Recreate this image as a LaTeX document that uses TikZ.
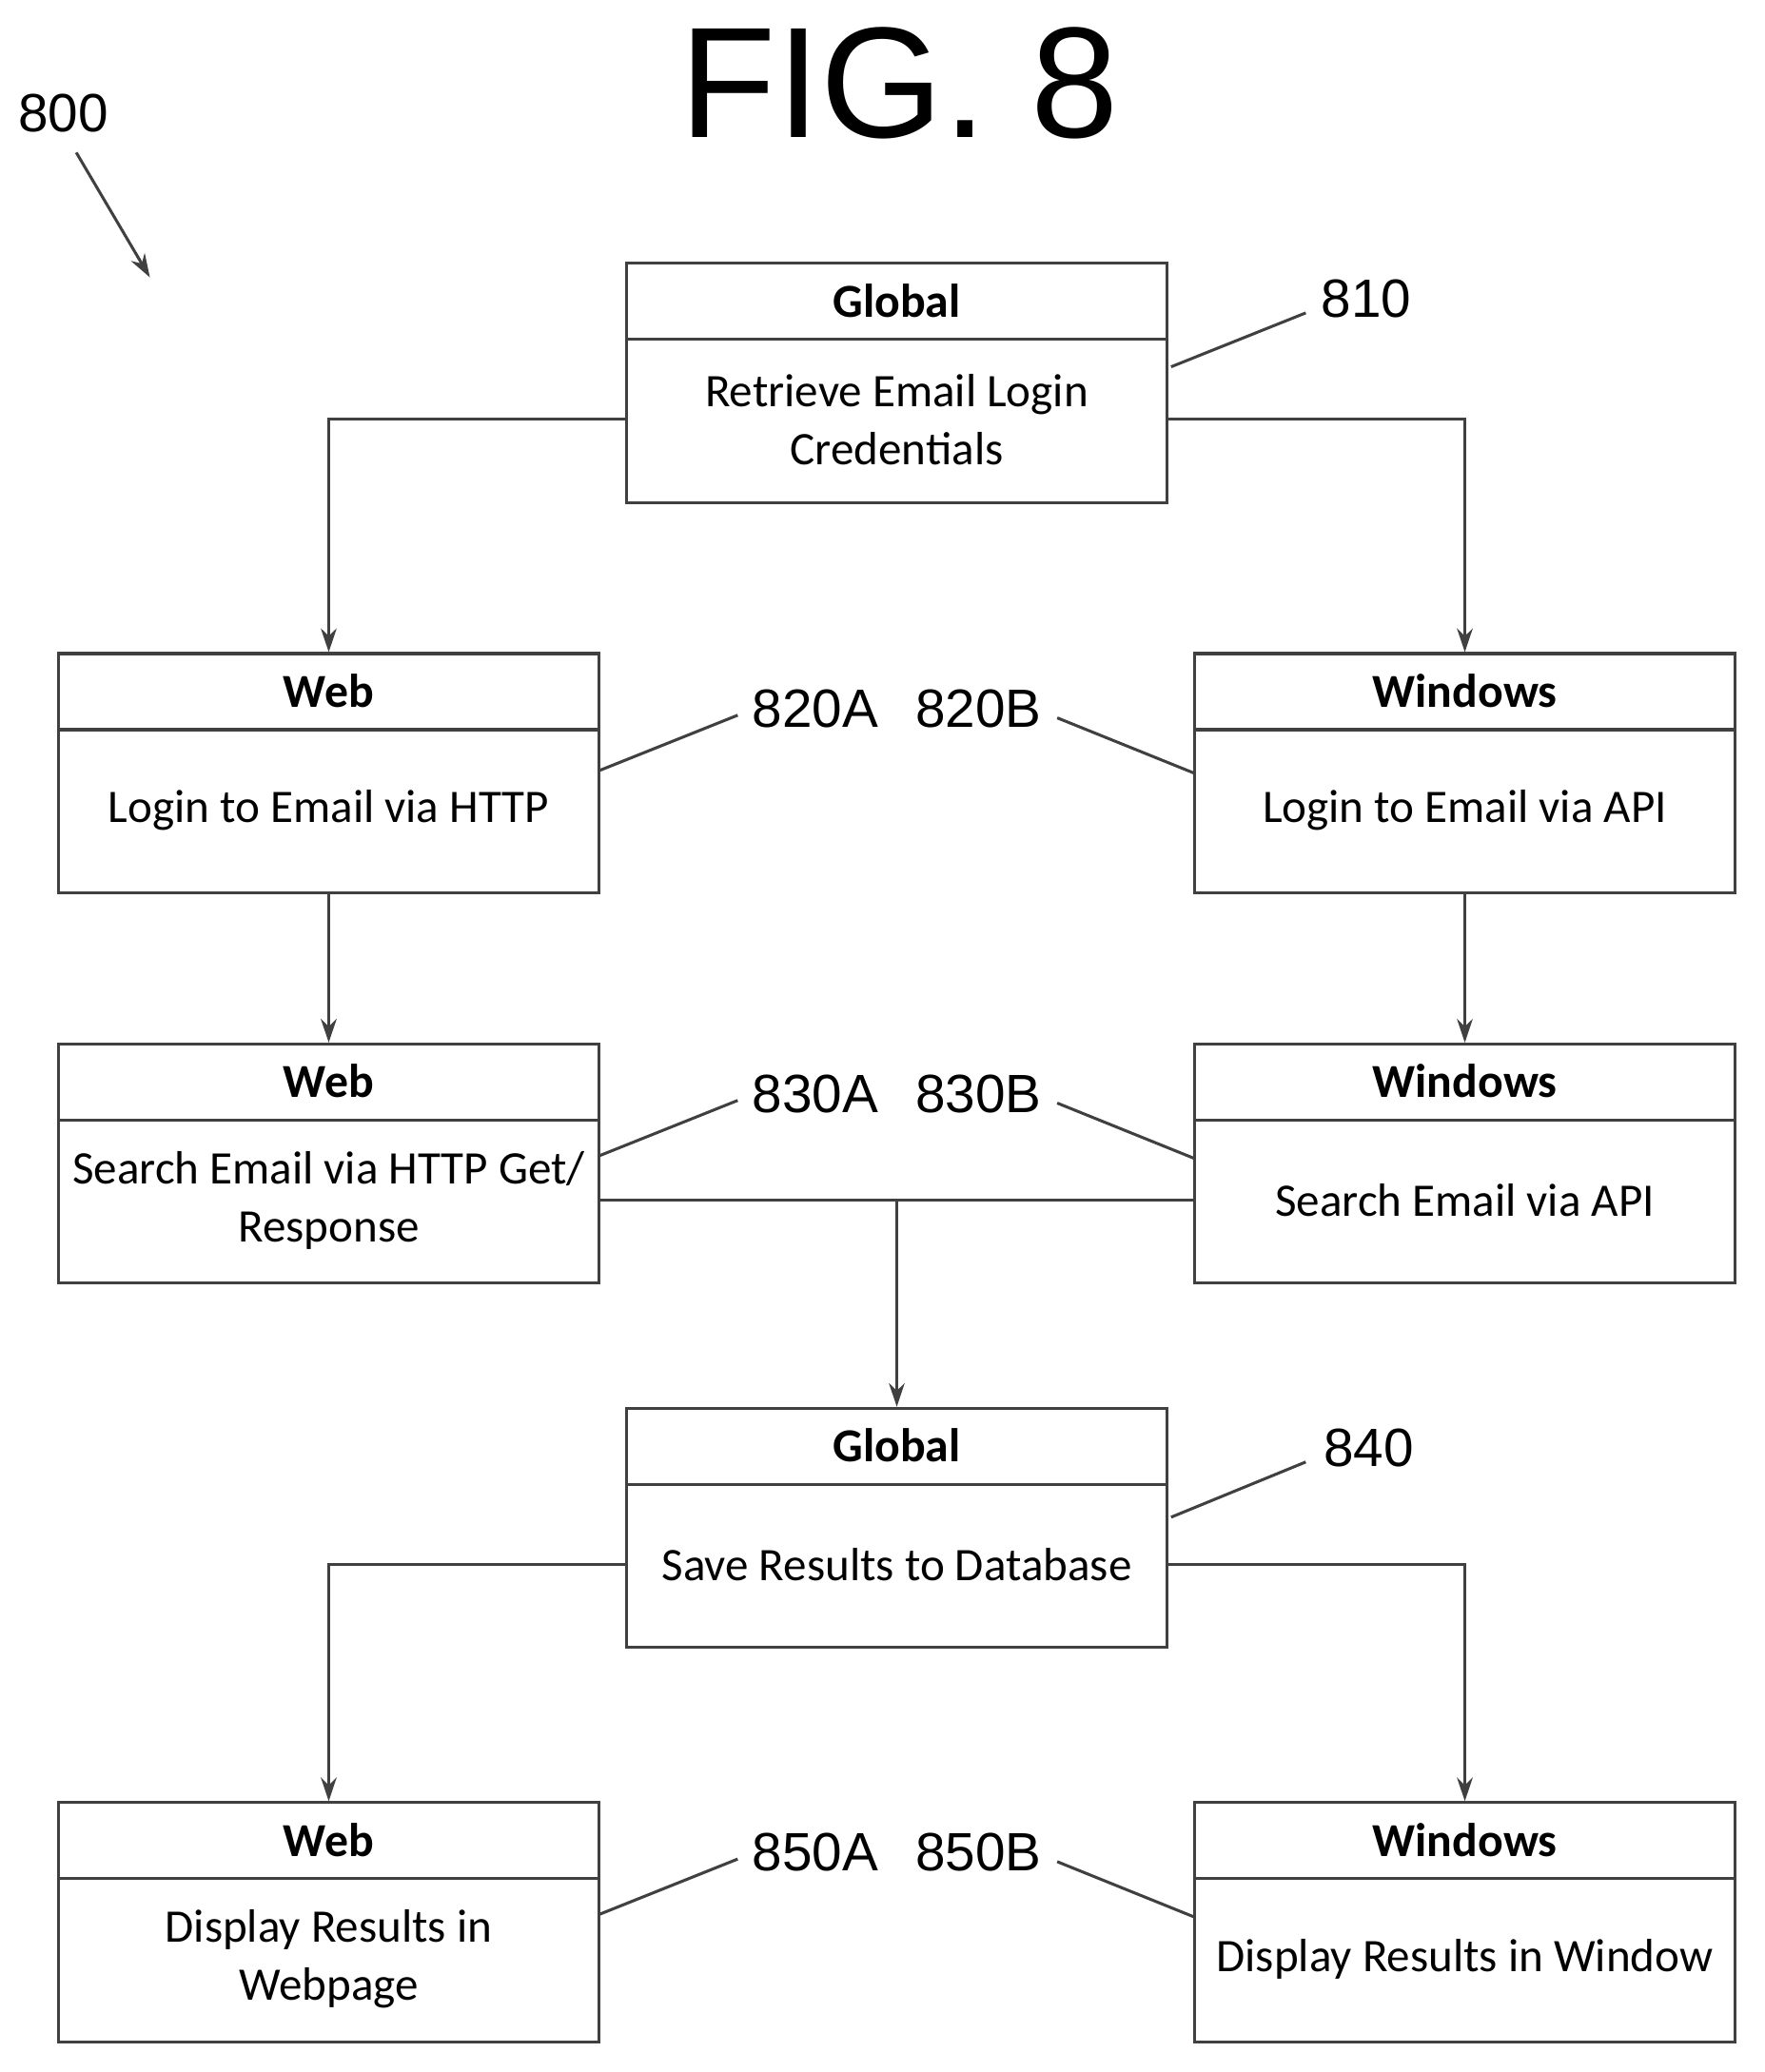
\documentclass[tikz,border=0pt]{standalone}
\usepackage{fontspec}
\setmainfont{Carlito}
\newfontfamily\arialf{Liberation Sans}
\usetikzlibrary{arrows.meta}
\begin{document}
\begin{tikzpicture}[x=1pt,y=-1pt,
  box/.style={draw=black!75,line width=2.2pt,minimum width=411pt,minimum height=182pt,inner sep=0pt},
  hd/.style={font=\fontsize{36}{40}\selectfont\bfseries},
  bd/.style={font=\fontsize{35.5}{44}\selectfont,align=center},
  num/.style={font=\arialf\fontsize{41}{48}\selectfont},
  ln/.style={draw=black!75,line width=2.2pt},
  ar/.style={ln,-{Stealth[length=18pt,width=12pt]}}]
\useasboundingbox (-1,-1) rectangle (1341,1575);
\node[font=\arialf\fontsize{120}{130}\selectfont] (fig) at (683,62) {FIG. 8};
\node[num] (n800) at (47,85) {800};
\coordinate (a800) at (57,115); \coordinate (b800) at (113,210);
\draw[ar] (a800) -- (b800);
\newcommand{\mybox}[5]{%
  \node[box,anchor=north] (#1) at (#2,#3) {};
  \draw[ln] ([yshift=-59pt]#1.north west) -- ([yshift=-59pt]#1.north east);
  \node[hd] (#1h) at ([yshift=-29.5pt]#1.north) {#4};
  \node[bd] (#1b) at ([yshift=-120pt]#1.north) {#5};}
\mybox{g1}{681}{198}{Global}{Retrieve Email Login\\Credentials}
\mybox{wa}{249}{495}{Web}{Login to Email via HTTP}
\mybox{wb}{1113}{495}{Windows}{Login to Email via API}
\mybox{sa}{249}{792}{Web}{Search Email via HTTP Get/\\Response}
\mybox{sb}{1113}{792}{Windows}{Search Email via API}
\mybox{g2}{681}{1069}{Global}{Save Results to Database}
\mybox{da}{249}{1369}{Web}{Display Results in\\Webpage}
\mybox{db}{1113}{1369}{Windows}{Display Results in Window}
\draw[ar] (g1.west |- 0,318) -| (wa.north);
\draw[ar] (g1.east |- 0,318) -| (wb.north);
\draw[ar] (wa) -- (sa);
\draw[ar] (wb) -- (sb);
\draw[ln] (sa.east |- 0,912) -- (sb.west |- 0,912);
\coordinate (mj) at (681,912);
\draw[ar] (mj) -- (g2.north);
\draw[ar] (g2.west |- 0,1189) -| (da.north);
\draw[ar] (g2.east |- 0,1189) -| (db.north);
\node[num] (l810) at (1038,226) {810};
\draw[ln] ([shift={(2,80)}]g1.north east) -- (992,237);
\node[num] (l840) at (1040,1100) {840};
\draw[ln] ([shift={(2,84)}]g2.north east) -- (992,1111);
\foreach \y/\t in {538/820, 831/830, 1408/850}{
  \node[num] at (619,\y) {\t A};
  \node[num] at (743,\y) {\t B};
}
\draw[ln] (455,585) -- (560,543); \draw[ln] (803,545) -- (907,587);
\draw[ln] (455,878) -- (560,836); \draw[ln] (803,838) -- (907,880);
\draw[ln] (455,1455) -- (560,1413); \draw[ln] (803,1415) -- (907,1457);
\end{tikzpicture}
\end{document}
